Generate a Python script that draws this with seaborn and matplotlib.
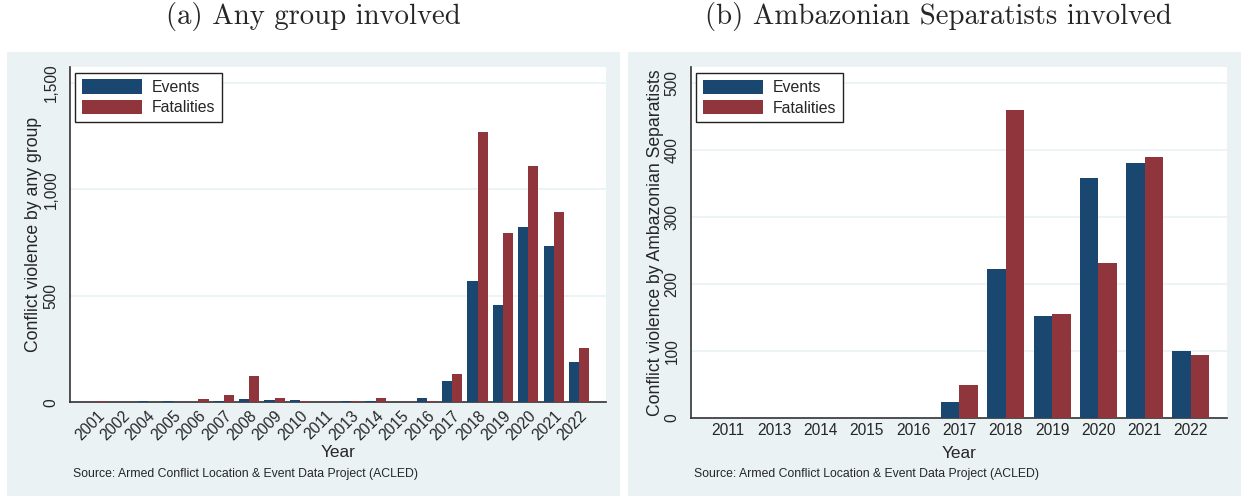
import pandas as pd
import matplotlib.pyplot as plt
import seaborn as sns
from matplotlib.patches import Rectangle
from matplotlib.ticker import FuncFormatter

# data
years_a = [2001, 2002, 2004, 2005, 2006, 2007, 2008, 2009, 2010, 2011,
           2013, 2014, 2015, 2016, 2017, 2018, 2019, 2020, 2021, 2022]
events_a = [2, 3, 4, 5, 2, 6, 14, 12, 12, 3, 5, 7, 2, 20, 101, 571, 456, 824, 735, 189]
fatal_a = [4, 0, 2, 3, 17, 33, 124, 19, 6, 3, 8, 20, 2, 5, 134, 1269, 797, 1111, 896, 255]

years_b = [2011, 2013, 2014, 2015, 2016, 2017, 2018, 2019, 2020, 2021, 2022]
events_b = [0, 0, 0, 0, 0, 24, 222, 152, 358, 381, 100]
fatal_b = [0, 0, 0, 0, 0, 49, 460, 155, 232, 390, 94]

NAVY = '#1a476f'
MAROON = '#90353b'
PANEL = '#eaf2f3'
SRC = 'Source: Armed Conflict Location & Event Data Project (ACLED)'


def long_df(years, ev, fa):
    df = pd.DataFrame({'Year': [str(y) for y in years], 'Events': ev, 'Fatalities': fa})
    return df.melt(id_vars='Year', var_name='Measure', value_name='Count')


sns.set_style("white")
plt.rcParams['font.family'] = ['Liberation Sans', 'DejaVu Sans']

W, H = 1241, 496
fig = plt.figure(figsize=(W / 100, H / 100), dpi=100)

# grey panel backgrounds (Stata s2color)
for x0 in (7, 628):
    fig.patches.append(Rectangle((x0 / W, 0), 613 / W, 444 / H, transform=fig.transFigure,
                                 facecolor=PANEL, edgecolor='none', zorder=-5))


def panel(rect, df, ylim, yticks, xlim, ylabel, rot, ylab_x, xlab_y):
    ax = fig.add_axes(rect)
    ax.set_facecolor('white')
    sns.barplot(data=df, x='Year', y='Count', hue='Measure', hue_order=['Events', 'Fatalities'],
                palette=[NAVY, MAROON], saturation=1, width=0.8, errorbar=None,
                linewidth=0, ax=ax, zorder=3)
    ax.set_xlim(*xlim)
    ax.set_ylim(*ylim)
    ax.set_yticks(yticks)
    ax.yaxis.set_major_formatter(FuncFormatter(lambda v, p: f'{v:,.0f}'))
    ax.grid(axis='y', color=PANEL, lw=1.2, zorder=0)
    ax.set_axisbelow(True)
    for s in ('top', 'right'):
        ax.spines[s].set_visible(False)
    for s in ('left', 'bottom'):
        ax.spines[s].set_color('#333333')
        ax.spines[s].set_linewidth(1.2)
    ax.tick_params(axis='y', length=4.3, width=1, color='#333333', labelsize=11.2, pad=4)
    ax.tick_params(axis='x', length=0, labelsize=11.2, pad=4)
    for t in ax.get_yticklabels():
        t.set_rotation(90)
        t.set_va('center')
    if rot:
        for t in ax.get_xticklabels():
            t.set_rotation(45)
            t.set_ha('right')
            t.set_rotation_mode('anchor')
    ax.set_ylabel(ylabel, fontsize=12.7, va='center')
    ax.yaxis.set_label_coords(ylab_x, 0.5)
    ax.set_xlabel('Year', fontsize=12.4)
    ax.xaxis.set_label_coords(0.5, xlab_y)
    ax.xaxis.label.set_va('center')
    h, l = ax.get_legend_handles_labels()
    ax.legend(h, l, loc='upper left', bbox_to_anchor=(0.0095, 0.982), borderaxespad=0,
              fontsize=11.4, handlelength=3.8, handleheight=1.0, handletextpad=0.6,
              labelspacing=0.32, borderpad=0.42, fancybox=False, edgecolor='#222222',
              framealpha=1)
    return ax


ax1 = panel([70 / W, 1 - 402.3 / H, 536 / W, 335.6 / H], long_df(years_a, events_a, fatal_a),
            (0, 1577), [0, 500, 1000, 1500], (-1.06, 20.06),
            'Conflict violence by any group', True, -0.069, -0.151)
ax2 = panel([691 / W, 1 - 417.7 / H, 536 / W, 351 / H], long_df(years_b, events_b, fatal_b),
            (0, 525), [0, 100, 200, 300, 400, 500], (-0.8, 10.78),
            'Conflict violence by Ambazonian Separatists', False, -0.067, -0.1006)

fig.text(313 / W, 1 - 16 / H, '(a) Any group involved', ha='center', va='center',
         family='cmr10', fontsize=20.7)
fig.text(938 / W, 1 - 16 / H, '(b) Ambazonian Separatists involved', ha='center', va='center',
         family='cmr10', fontsize=20.7)
fig.text(73 / W, 1 - 473.7 / H, SRC, ha='left', va='center', fontsize=8.85)
fig.text(694 / W, 1 - 473.7 / H, SRC, ha='left', va='center', fontsize=8.85)

fig.savefig('out.png', dpi=100)
